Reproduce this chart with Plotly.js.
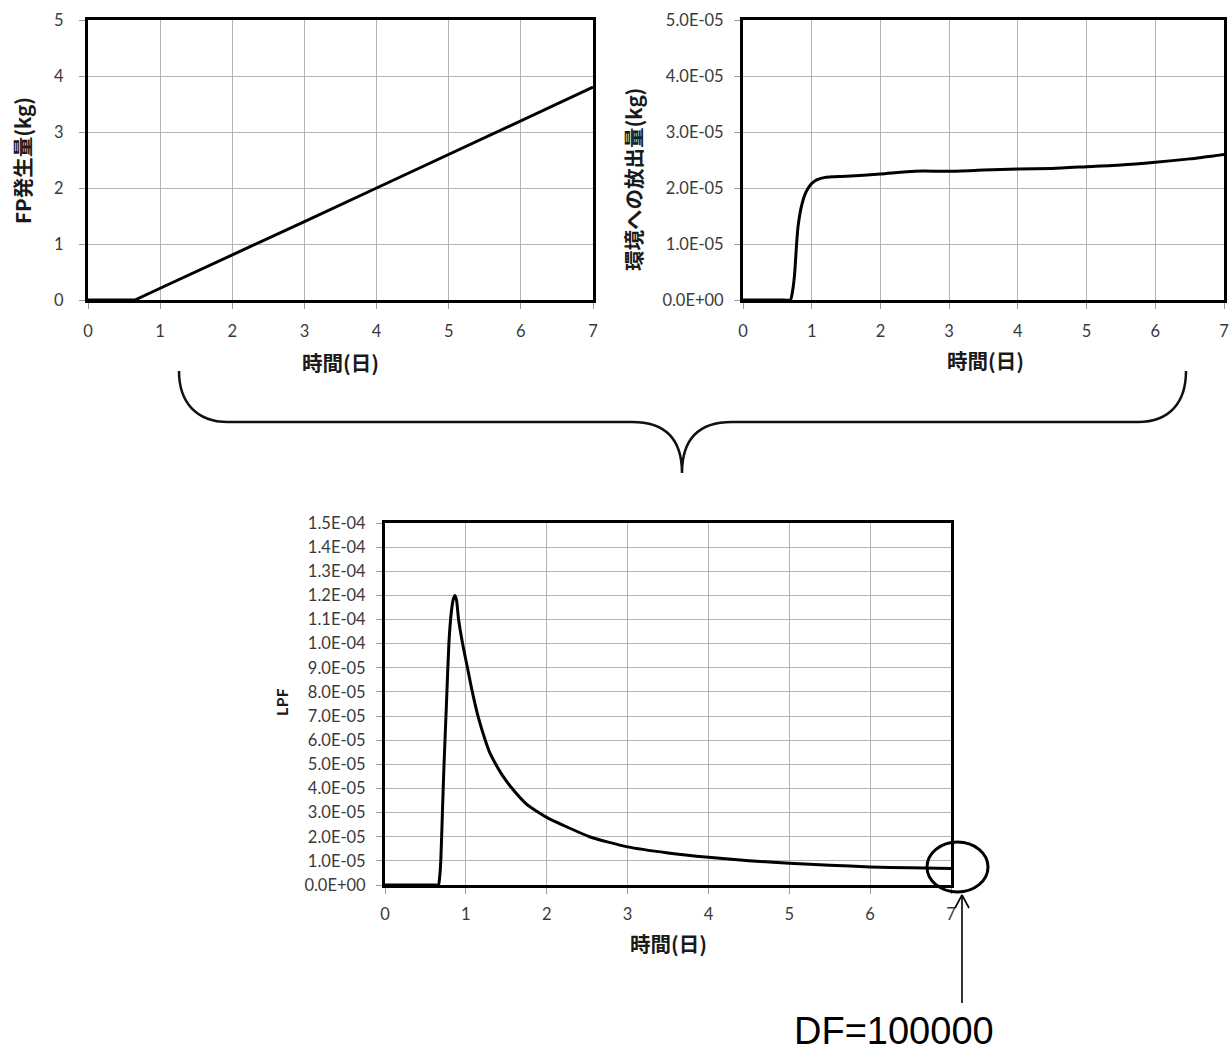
<!DOCTYPE html>
<html>
<head>
<meta charset="utf-8">
<script src="https://cdn.plot.ly/plotly-3.0.1.min.js"></script>
<style>
  html, body { margin: 0; padding: 0; background: #ffffff; }
  #chart { width: 1229px; height: 1052px; }
</style>
</head>
<body>
<div id="chart"></div>
<script>
// ---------------- DATA ----------------
// Top-left: FP generation (kg) vs time (days)
const fpDays = [0, 0.65, 1, 2, 3, 4, 5, 6, 7];
const fpKg   = [0, 0, 0.21, 0.8, 1.4, 2.0, 2.6, 3.2, 3.8];

// Top-right: release to environment (kg) vs time (days)
const relDays = [0, 0.3, 0.6, 0.69, 0.72, 0.75, 0.78, 0.80, 0.83, 0.86, 0.90, 0.95, 1.0, 1.05, 1.1, 1.2, 1.3, 1.5, 2.0, 2.5, 3.0, 3.5, 4.0, 4.5, 5.0, 5.5, 6.0, 6.5, 7.0];
const relKg   = [0, 0, 0, 0, 0.15e-5, 0.45e-5, 1.0e-5, 1.3e-5, 1.55e-5, 1.72e-5, 1.88e-5, 2.0e-5, 2.08e-5, 2.13e-5, 2.16e-5, 2.19e-5, 2.2e-5, 2.21e-5, 2.25e-5, 2.3e-5, 2.3e-5, 2.32e-5, 2.34e-5, 2.35e-5, 2.38e-5, 2.41e-5, 2.46e-5, 2.52e-5, 2.6e-5];

// Bottom: LPF vs time (days)
const lpfDays = [0, 0.3, 0.6, 0.66, 0.675, 0.69, 0.71, 0.73, 0.76, 0.79, 0.82, 0.845, 0.865, 0.885, 0.91, 0.96, 1.02, 1.08, 1.15, 1.24, 1.30, 1.37, 1.45, 1.56, 1.75, 1.9, 2.0, 2.2, 2.53, 3.0, 3.5, 4.0, 4.5, 5.0, 5.5, 6.0, 6.5, 7.0];
const lpfVal  = [0, 0, 0, 0, 0.3e-5, 1.0e-5, 3.0e-5, 5.0e-5, 7.5e-5, 10.0e-5, 11.3e-5, 11.85e-5, 12.0e-5, 11.8e-5, 11.0e-5, 10.0e-5, 9.0e-5, 8.0e-5, 7.0e-5, 6.0e-5, 5.45e-5, 5.0e-5, 4.55e-5, 4.05e-5, 3.35e-5, 3.0e-5, 2.8e-5, 2.48e-5, 2.0e-5, 1.58e-5, 1.33e-5, 1.15e-5, 1.01e-5, 0.9e-5, 0.82e-5, 0.75e-5, 0.71e-5, 0.68e-5];

// Tick values / labels
const dayTicks = [0, 1, 2, 3, 4, 5, 6, 7];
const fpTicks = [0, 1, 2, 3, 4, 5];
const relTickVals = [0, 1e-5, 2e-5, 3e-5, 4e-5, 5e-5];
const relTickText = ["0.0E+00", "1.0E-05", "2.0E-05", "3.0E-05", "4.0E-05", "5.0E-05"];
const lpfTickVals = [0, 1e-5, 2e-5, 3e-5, 4e-5, 5e-5, 6e-5, 7e-5, 8e-5, 9e-5, 1.0e-4, 1.1e-4, 1.2e-4, 1.3e-4, 1.4e-4, 1.5e-4];
const lpfTickText = ["0.0E+00", "1.0E-05", "2.0E-05", "3.0E-05", "4.0E-05", "5.0E-05", "6.0E-05", "7.0E-05", "8.0E-05", "9.0E-05", "1.0E-04", "1.1E-04", "1.2E-04", "1.3E-04", "1.4E-04", "1.5E-04"];

// Texts
const xTitle = "時間(日)";
const yTitleFP = "FP発生量(kg)";
const yTitleRel = "環境への放出量(kg)";
const yTitleLPF = "LPF";
const dfText = "DF=100000";

// ---------------- LAYOUT HELPERS ----------------
const W = 1229, H = 1052;
const px = v => v / W;
const py = v => 1 - v / H;

const tickFont = { family: "Lato, 'Liberation Sans', sans-serif", size: 16.5, color: "#3a3a3a" };
const titleFont = { family: "'Noto Sans CJK JP', sans-serif", size: 20.5, color: "#1a1a1a" };

function axisBase(extra) {
  return Object.assign({
    showline: true, linecolor: "#000", linewidth: 3, mirror: true,
    showgrid: true, gridcolor: "#b4b4b4", gridwidth: 1,
    zeroline: false,
    ticks: "outside", ticklen: 6, tickcolor: "#9a9a9a", tickwidth: 1,
    tickfont: tickFont, fixedrange: true
  }, extra);
}

const lineStyle = { color: "#000", width: 3 };
const smoothStyle = { color: "#000", width: 3, shape: "spline", smoothing: 0.6 };

const traces = [
  { x: fpDays, y: fpKg, xaxis: "x", yaxis: "y", mode: "lines", line: lineStyle, hoverinfo: "skip" },
  { x: relDays, y: relKg, xaxis: "x2", yaxis: "y2", mode: "lines", line: smoothStyle, hoverinfo: "skip" },
  { x: lpfDays, y: lpfVal, xaxis: "x3", yaxis: "y3", mode: "lines", line: smoothStyle, hoverinfo: "skip" }
];

function bold(t) { return "<b>" + t + "</b>"; }

const annotations = [
  { text: bold(yTitleFP), x: px(22), y: py(161), textangle: -90 },
  { text: bold(xTitle), x: px(340), y: py(362) },
  { text: bold(yTitleRel), x: px(633), y: py(180), textangle: -90 },
  { text: bold(xTitle), x: px(985), y: py(360) },
  { text: bold(yTitleLPF), x: px(281), y: py(702), textangle: -90, font: { family: "'Noto Sans CJK JP', sans-serif", size: 15, color: "#1a1a1a" } },
  { text: bold(xTitle), x: px(668), y: py(943) },
  { text: dfText, x: px(894), y: py(1031), font: { family: "'Liberation Sans', Arial, sans-serif", size: 38, color: "#000" } }
].map(a => Object.assign({ xref: "paper", yref: "paper", showarrow: false, xanchor: "center", yanchor: "middle", font: titleFont }, a));

function P(x, y) { return px(x).toFixed(5) + "," + py(y).toFixed(5); }
const bracePath =
  "M" + P(179, 371) +
  " C" + P(179, 402) + " " + P(196, 422) + " " + P(228, 422) +
  " L" + P(632, 422) +
  " C" + P(666, 422) + " " + P(682, 440) + " " + P(682, 473) +
  " C" + P(682, 440) + " " + P(698, 422) + " " + P(732, 422) +
  " L" + P(1138, 422) +
  " C" + P(1170, 422) + " " + P(1186, 402) + " " + P(1186, 371);

const shapes = [
  { type: "path", xref: "paper", yref: "paper", path: bracePath, line: { color: "#111", width: 2.5 } },
  { type: "circle", xref: "paper", yref: "paper", x0: px(927), x1: px(988), y0: py(892), y1: py(842), line: { color: "#000", width: 3 } },
  { type: "line", xref: "paper", yref: "paper", x0: px(962), x1: px(962), y0: py(1003), y1: py(895), line: { color: "#000", width: 1.6 } },
  { type: "line", xref: "paper", yref: "paper", x0: px(962), x1: px(955), y0: py(895), y1: py(908), line: { color: "#000", width: 1.6 } },
  { type: "line", xref: "paper", yref: "paper", x0: px(962), x1: px(969), y0: py(895), y1: py(908), line: { color: "#000", width: 1.6 } }
];

const layout = {
  width: W, height: H,
  margin: { l: 0, r: 0, t: 0, b: 0, pad: 0 },
  paper_bgcolor: "#fff", plot_bgcolor: "#fff",
  showlegend: false,
  xaxis: axisBase({ domain: [px(88), px(593)], range: [0, 7], tickvals: dayTicks, anchor: "y", ticklabelstandoff: 8 }),
  yaxis: axisBase({ domain: [py(300), py(20)], range: [0, 5], tickvals: fpTicks, anchor: "x", ticklabelstandoff: 12 }),
  xaxis2: axisBase({ domain: [px(743), px(1224)], range: [0, 7], tickvals: dayTicks, anchor: "y2", ticklabelstandoff: 8 }),
  yaxis2: axisBase({ domain: [py(300), py(20)], range: [0, 5e-5], tickvals: relTickVals, ticktext: relTickText, anchor: "x2", ticklabelstandoff: 7 }),
  xaxis3: axisBase({ domain: [px(385), px(951)], range: [0, 7], tickvals: dayTicks, anchor: "y3", ticklabelstandoff: 6 }),
  yaxis3: axisBase({ domain: [py(885), py(523)], range: [0, 1.5e-4], tickvals: lpfTickVals, ticktext: lpfTickText, anchor: "x3", ticklabelstandoff: 7 }),
  annotations: annotations,
  shapes: shapes
};

Plotly.newPlot("chart", traces, layout, { staticPlot: true, displayModeBar: false });
</script>
</body>
</html>
